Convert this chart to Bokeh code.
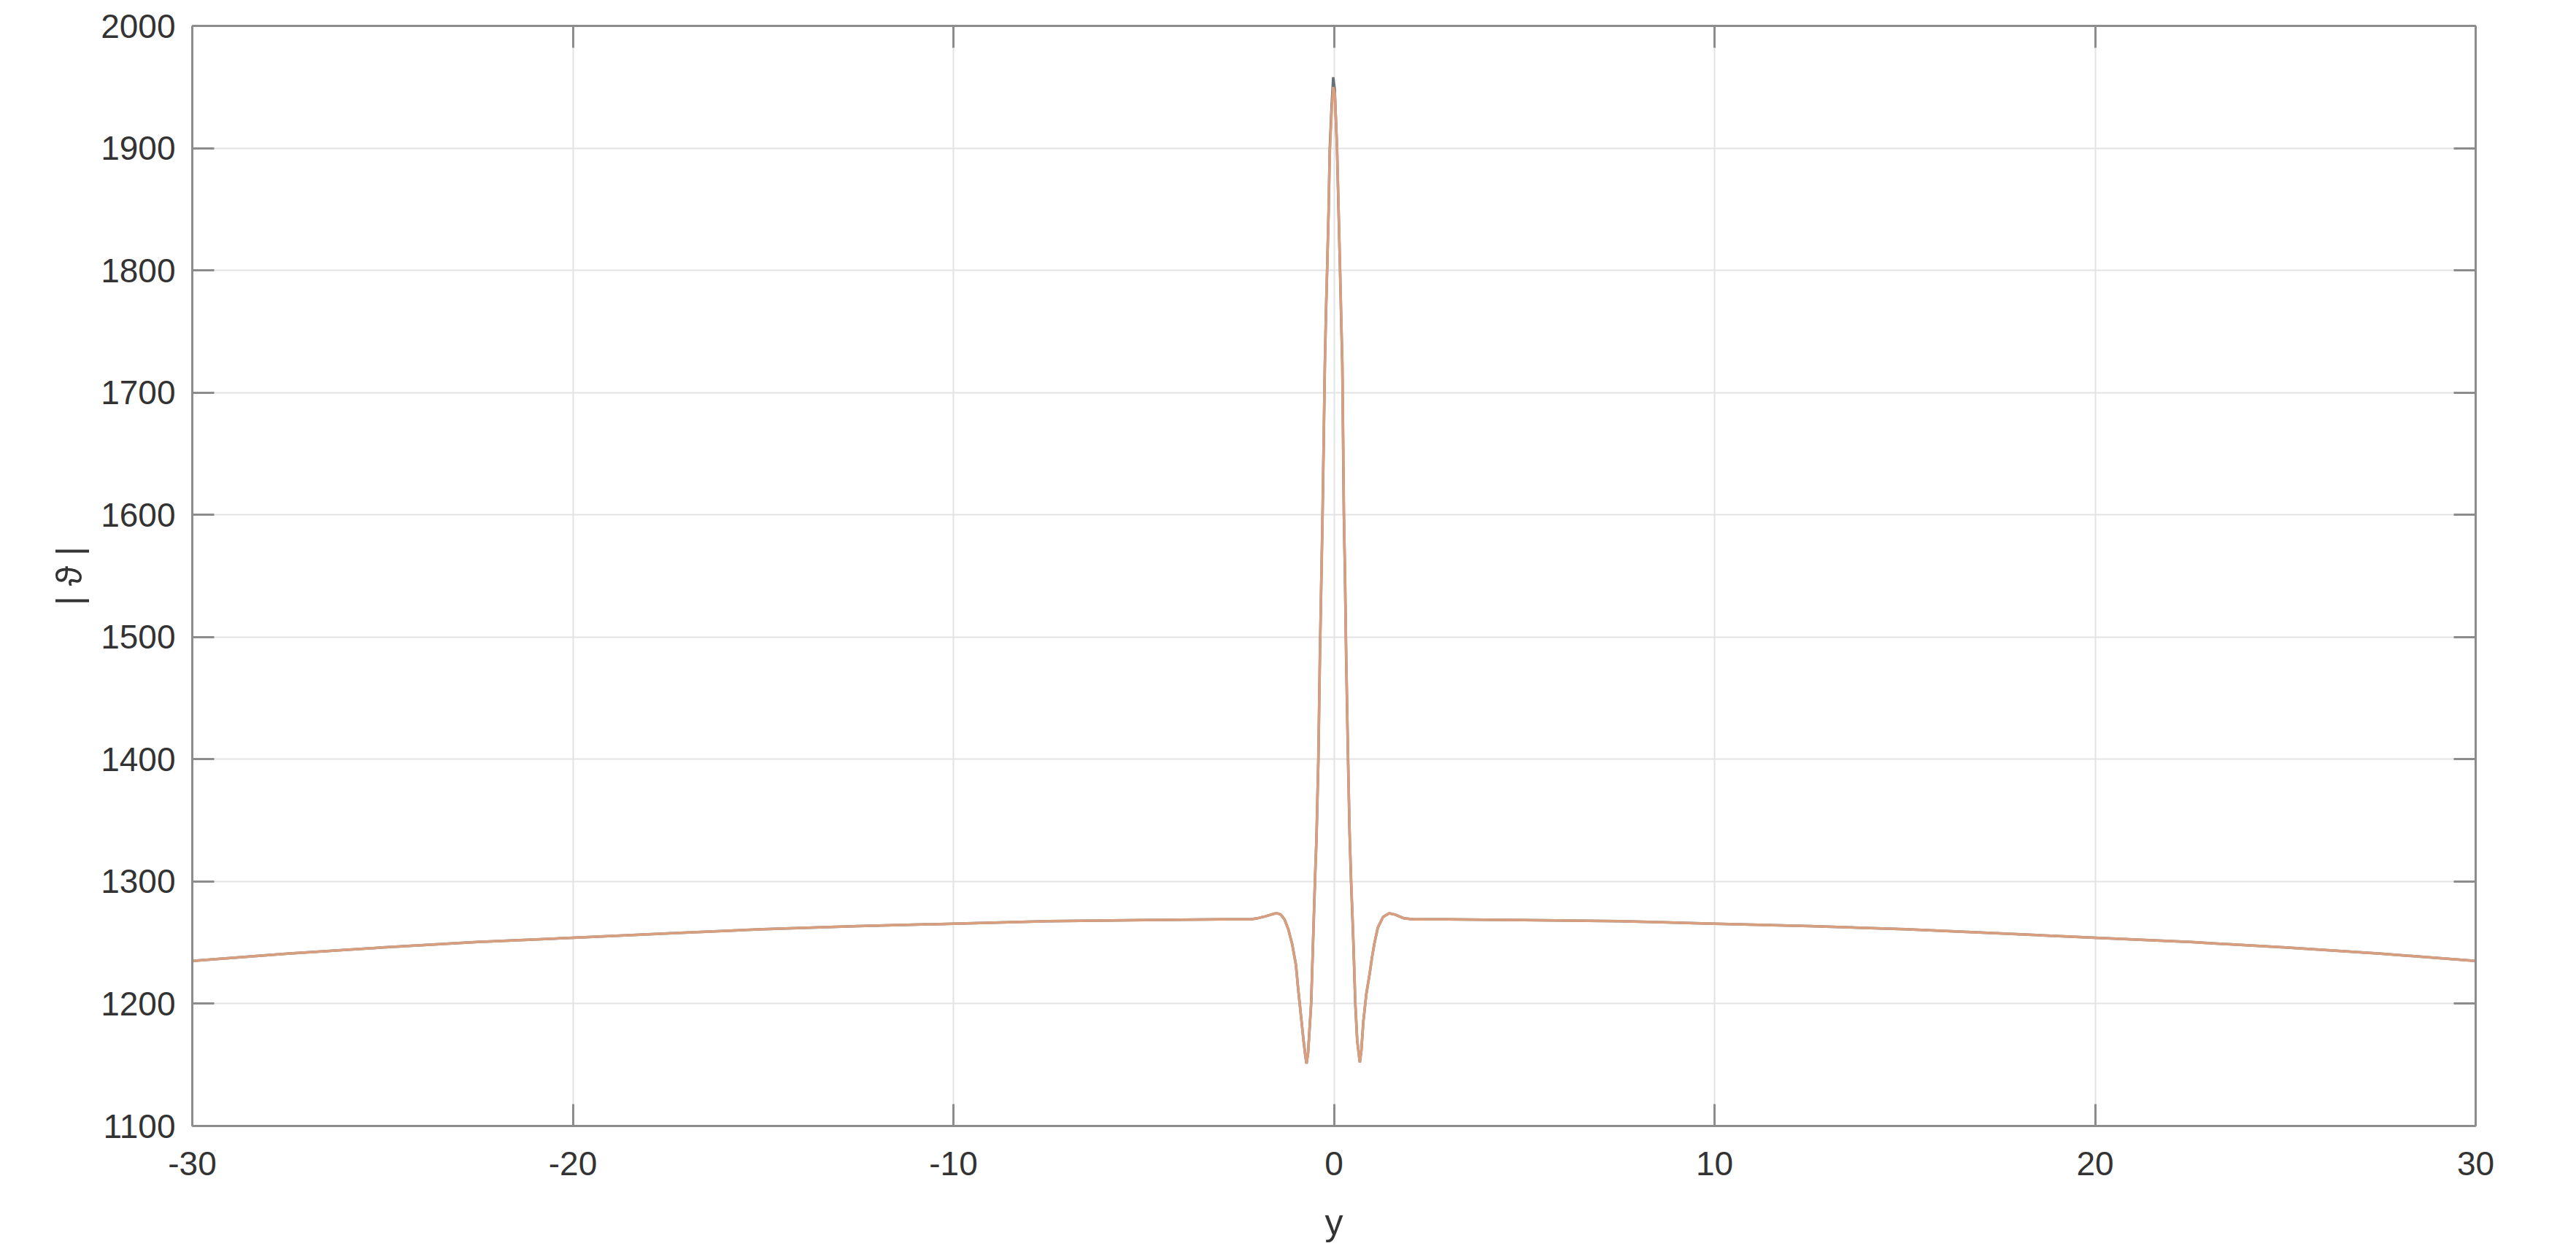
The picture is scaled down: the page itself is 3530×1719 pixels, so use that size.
from bokeh.plotting import figure
from bokeh.models import LinearAxis, Range1d, FixedTicker
from bokeh.embed import file_html
from bokeh.resources import INLINE

# tick values
x_ticks = [-30, -20, -10, 0, 10, 20, 30]
y_ticks = [1100, 1200, 1300, 1400, 1500, 1600, 1700, 1800, 1900, 2000]

# sample positions along y
y_pos = [-30, -27.5, -25, -22.5, -20, -17.5, -15, -12.5, -10, -7.5, -5, -3,
         -2.2, -2.0, -1.8, -1.6, -1.5, -1.4, -1.3, -1.2, -1.1, -1.0, -0.95,
         -0.9, -0.85, -0.8, -0.75, -0.72, -0.68, -0.64, -0.6, -0.55, -0.5,
         -0.46, -0.41, -0.37, -0.33, -0.30, -0.27, -0.24, -0.21, -0.18,
         -0.14, -0.11, -0.06, -0.02, 0.02, 0.08, 0.12, 0.16, 0.19, 0.22,
         0.26, 0.29, 0.32, 0.37, 0.41, 0.45, 0.51, 0.56, 0.61, 0.68, 0.72,
         0.77, 0.85, 0.94, 1.0, 1.06, 1.15, 1.29, 1.45, 1.6, 1.83, 2.1, 3,
         5, 7.5, 10, 12.5, 15, 17.5, 20, 22.5, 25, 27.5, 30]

# |theta| first series (dark)
theta_a = [1235, 1241, 1246, 1250.5, 1254, 1257.5, 1261, 1263.5, 1265.5,
           1267.5, 1268.5, 1269, 1269, 1270, 1271.5, 1273.5, 1274, 1273,
           1269, 1261, 1249, 1232, 1215, 1200, 1185, 1170, 1157, 1151, 1160,
           1180, 1200, 1250, 1300, 1335, 1400, 1484, 1550, 1600, 1660, 1722,
           1765, 1800, 1850, 1900, 1935, 1958, 1948, 1900, 1850, 1800, 1760,
           1722, 1600, 1550, 1484, 1400, 1340, 1300, 1250, 1200, 1170, 1152,
           1162, 1185, 1208, 1225, 1238, 1249, 1262, 1271, 1274, 1273, 1270,
           1269, 1269, 1268.5, 1267.5, 1265.5, 1263.5, 1261, 1257.5, 1254,
           1250.5, 1246, 1241, 1235]

# |theta| second series (orange)
theta_b = [1235, 1241, 1246, 1250.5, 1254, 1257.5, 1261, 1263.5, 1265.5,
           1267.5, 1268.5, 1269, 1269, 1270, 1271.5, 1273.5, 1274, 1273,
           1269, 1261, 1249, 1232, 1215, 1200, 1185, 1170, 1157, 1151, 1160,
           1180, 1200, 1250, 1300, 1335, 1400, 1484, 1550, 1600, 1660, 1722,
           1765, 1800, 1850, 1895, 1930, 1950, 1945, 1902, 1852, 1802, 1762,
           1724, 1602, 1552, 1486, 1402, 1342, 1302, 1252, 1202, 1170, 1152,
           1162, 1185, 1208, 1225, 1238, 1249, 1262, 1271, 1274, 1273, 1270,
           1269, 1269, 1268.5, 1267.5, 1265.5, 1263.5, 1261, 1257.5, 1254,
           1250.5, 1246, 1241, 1235]

AX = "#8c8c8c"
TXT = "#333333"
FONT = "Liberation Sans"

p = figure(frame_width=3129, frame_height=1508,
           x_range=Range1d(-30, 30), y_range=Range1d(1100, 2000),
           output_backend="svg", toolbar_location=None,
           min_border_left=263, min_border_right=122,
           min_border_top=35, min_border_bottom=160,
           background_fill_color="white", border_fill_color="white")
p.outline_line_color = None

p.line(y_pos, theta_a, line_color="#66707c", line_width=3.5)
p.line(y_pos, theta_b, line_color="#e2a27e", line_width=3.5, line_alpha=0.92)

p.add_layout(LinearAxis(), "above")
p.add_layout(LinearAxis(), "right")

for ax in p.xaxis:
    ax.ticker = FixedTicker(ticks=x_ticks)
    ax.major_label_overrides = {t: str(t) for t in x_ticks}
for ax in p.yaxis:
    ax.ticker = FixedTicker(ticks=y_ticks)
    ax.major_label_overrides = {t: str(t) for t in y_ticks}

for ax in p.xaxis + p.yaxis:
    ax.axis_line_color = AX
    ax.axis_line_width = 3
    ax.major_tick_line_color = AX
    ax.major_tick_line_width = 3
    ax.major_tick_in = 30
    ax.major_tick_out = 0
    ax.minor_tick_line_color = None
    ax.major_label_text_font = FONT
    ax.major_label_text_font_size = "46px"
    ax.major_label_text_color = TXT
    ax.axis_label_text_font = FONT
    ax.axis_label_text_font_style = "normal"
    ax.axis_label_text_font_size = "50px"
    ax.axis_label_text_color = TXT

# top and right axes: ticks only, no labels drawn
for ax in (p.above[0], p.right[0]):
    ax.major_label_text_color = None
    ax.major_label_text_font_size = "10px"
    ax.major_label_standoff = 0

bx = p.below[0]
bx.axis_label = "y"
bx.major_label_standoff = 35
bx.axis_label_standoff = 34

ly = p.left[0]
ly.axis_label = "| ϑ |"
ly.major_label_standoff = 23
ly.axis_label_standoff = 12

p.xgrid.ticker = FixedTicker(ticks=x_ticks)
p.ygrid.ticker = FixedTicker(ticks=y_ticks)
for g in (p.xgrid, p.ygrid):
    g.grid_line_color = "#e3e3e3"
    g.grid_line_width = 2

open("out.html", "w").write(file_html(p, INLINE))
